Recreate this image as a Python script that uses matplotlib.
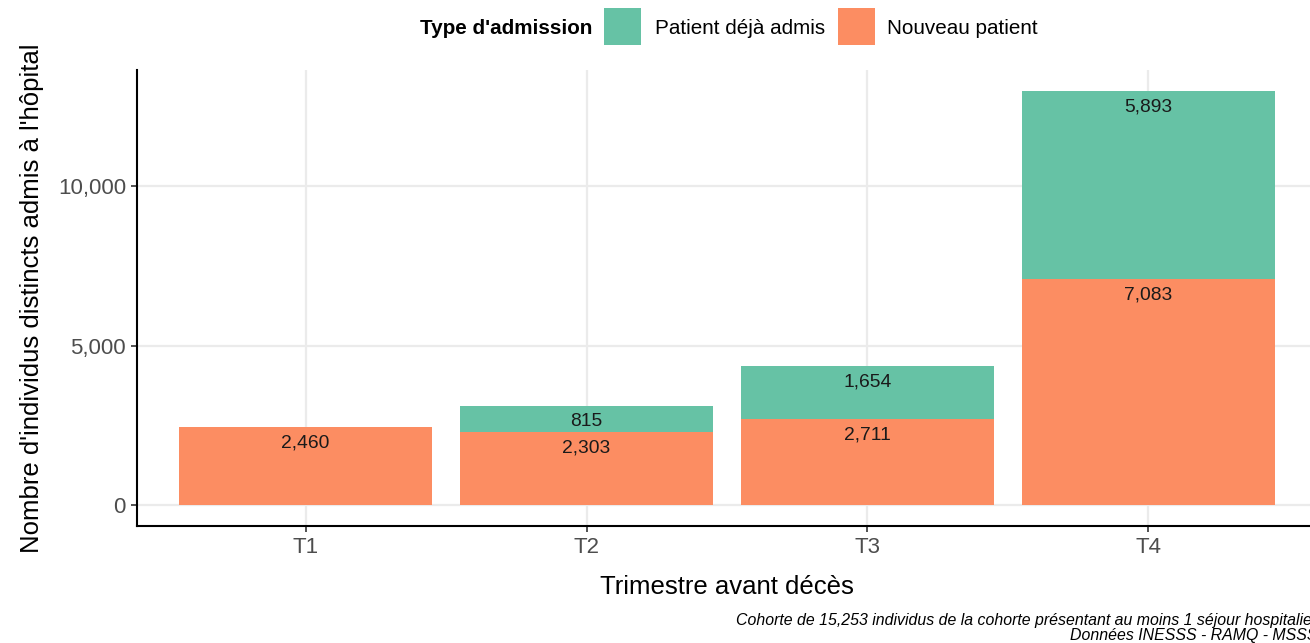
import matplotlib
matplotlib.use("Agg")
import matplotlib.pyplot as plt
from matplotlib.patches import Rectangle
from matplotlib.ticker import FuncFormatter

plt.rcParams['font.family'] = ['Liberation Sans', 'DejaVu Sans']

categories = ["T1", "T2", "T3", "T4"]
nouveau = [2460, 2303, 2711, 7083]
deja = [0, 815, 1654, 5893]
legend_title = "Type d'admission"
series_names = ["Patient déjà admis", "Nouveau patient"]
colors = {"deja": "#66C2A5", "nouveau": "#FC8D62"}
xlabel = "Trimestre avant décès"
ylabel = "Nombre d'individus distincts admis à l'hôpital"
caption = ("Cohorte de 15,253 individus de la cohorte présentant au moins 1 séjour hospitalier\n"
           "Données INESSS - RAMQ - MSSS")

W, H = 1310, 643
fig = plt.figure(figsize=(W / 100, H / 100), dpi=100)
left, right, bottom, top = 137, 1317, 526, 70
ax = fig.add_axes([left / W, 1 - bottom / H, (right - left) / W, (bottom - top) / H])

x = list(range(1, len(categories) + 1))
ax.bar(x, nouveau, width=0.9, color=colors["nouveau"], zorder=2)
ax.bar(x, deja, width=0.9, bottom=nouveau, color=colors["deja"], zorder=2)

totals = [n + d for n, d in zip(nouveau, deja)]
ymax = max(totals)
ax.set_ylim(-0.05 * ymax, ymax * 1.05)
ax.set_xlim(0.4, len(categories) + 0.6)

for xi, n, d in zip(x, nouveau, deja):
    ax.annotate(f"{n:,}", (xi, n), xytext=(0, -11.5), textcoords="offset points",
                ha="center", va="center", fontsize=13.9, color="#1a1a1a", zorder=3)
    if d > 0:
        ax.annotate(f"{d:,}", (xi, n + d), xytext=(0, -11.5), textcoords="offset points",
                    ha="center", va="center", fontsize=13.9, color="#1a1a1a", zorder=3)

ax.set_xticks(x)
ax.set_xticklabels(categories)
ax.set_yticks([0, 5000, 10000])
ax.yaxis.set_major_formatter(FuncFormatter(lambda v, p: f"{int(v):,}"))
ax.tick_params(axis="both", labelsize=16, labelcolor="#4D4D4D", color="#333333",
               length=4, width=1.2, pad=4)
ax.grid(True, color="#EBEBEB", linewidth=1.6, zorder=0)
ax.set_axisbelow(True)
for s in ["top", "right"]:
    ax.spines[s].set_visible(False)
for s in ["left", "bottom"]:
    ax.spines[s].set_linewidth(1.5)
    ax.spines[s].set_color("black")

ax.set_xlabel(xlabel, fontsize=18.5, labelpad=12)
ax.set_ylabel(ylabel, fontsize=18.5, labelpad=10)

# Legend (manual, horizontal at top)
ty = 1 - 28 / H
fig.text(420 / W, ty, legend_title, fontsize=14.9, fontweight="bold", ha="left", va="center")
fig.patches.append(Rectangle((604 / W, 1 - 45 / H), 37 / W, 37 / H, transform=fig.transFigure,
                             facecolor=colors["deja"], edgecolor="none"))
fig.text(655 / W, ty, series_names[0], fontsize=14.9, ha="left", va="center")
fig.patches.append(Rectangle((838 / W, 1 - 45 / H), 37 / W, 37 / H, transform=fig.transFigure,
                             facecolor=colors["nouveau"], edgecolor="none"))
fig.text(887 / W, ty, series_names[1], fontsize=14.9, ha="left", va="center")

fig.text(right / W, 1 - 628 / H, caption, fontsize=11.4, style="italic", ha="right", va="center",
         linespacing=1.0)

fig.savefig("out.png", dpi=100)
